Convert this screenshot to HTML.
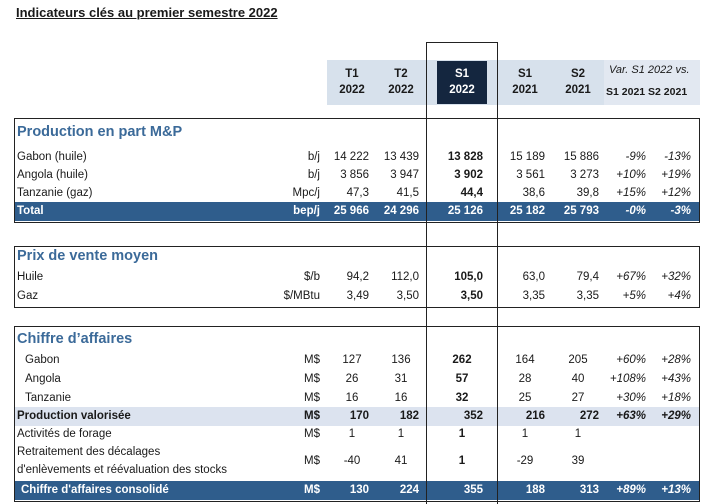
<!DOCTYPE html>
<html><head><meta charset="utf-8"><style>
body{margin:0;width:703px;height:504px;background:#fff;position:relative;overflow:hidden;font-family:"Liberation Sans",sans-serif;color:#1a1a1a;font-size:11.5px}
div,span{position:absolute;white-space:nowrap}
.r{line-height:18px}
.c{text-align:right}
.t{color:#3b6a99;font-weight:bold;font-size:14.5px;left:17px}
.b{font-weight:bold}
.i{font-style:italic}
.box{border:1.5px solid #222;left:14px;width:684px}
</style></head><body>
<div style="left:16px;top:5px;font-size:13px;font-weight:bold;text-decoration:underline">Indicateurs clés au premier semestre 2022</div>

<div style="left:327px;top:60px;width:373px;height:45px;background:#d7e1ec"></div>
<div style="left:604px;top:60px;width:96px;height:45px;background:#e2e8f1"></div>
<div style="left:437px;top:61px;width:50px;height:43px;background:#14263f"></div>
<div style="left:332px;top:66px;width:40px;text-align:center;line-height:16px;font-weight:bold">T1<br>2022</div>
<div style="left:381px;top:66px;width:40px;text-align:center;line-height:16px;font-weight:bold">T2<br>2022</div>
<div style="left:442px;top:66px;width:40px;text-align:center;line-height:16px;font-weight:bold;color:#fff">S1<br>2022</div>
<div style="left:505px;top:66px;width:40px;text-align:center;line-height:16px;font-weight:bold">S1<br>2021</div>
<div style="left:558px;top:66px;width:40px;text-align:center;line-height:16px;font-weight:bold">S2<br>2021</div>
<div class="i" style="left:609px;top:64px;font-size:11px">Var. S1 2022 vs.</div>
<div class="b" style="left:606px;top:86px;font-size:10.5px">S1 2021 S2 2021</div>

<div class="box" style="top:118px;height:103px"></div>
<div class="box" style="top:246px;height:60px"></div>
<div class="box" style="top:326px;height:174px"></div>

<div style="left:15px;top:202px;width:684px;height:19px;background:#2f5d8c"></div>
<div style="left:15px;top:407px;width:684px;height:19px;background:#dce3ef"></div>
<div style="left:15px;top:481px;width:684px;height:19px;background:#2f5d8c"></div>

<div style="left:426px;top:42px;height:462px;border-left:1.5px solid #222"></div>
<div style="left:497px;top:42px;height:462px;border-left:1.5px solid #222"></div>
<div style="left:426px;top:42px;width:72px;border-top:1.5px solid #222"></div>

<div class="t" style="top:124px">Production en part M&amp;P</div>
<div class="t" style="top:248px">Prix de vente moyen</div>
<div class="t" style="top:331px">Chiffre d’affaires</div>

<div id="rows"></div>
<script>
const cols=[320,369,419,483,545,599,646,691];
const rows=[
[148,"Gabon (huile)",["b/j","14 222","13 439","13 828","15 189","15 886","-9%","-13%"],""],
[166,"Angola (huile)",["b/j","3 856","3 947","3 902","3 561","3 273","+10%","+19%"],""],
[184,"Tanzanie (gaz)",["Mpc/j","47,3","41,5","44,4","38,6","39,8","+15%","+12%"],""],
[202,"Total",["bep/j","25 966","24 296","25 126","25 182","25 793","-0%","-3%"],"w"],
[268,"Huile",["$/b","94,2","112,0","105,0","63,0","79,4","+67%","+32%"],""],
[287,"Gaz",["$/MBtu","3,49","3,50","3,50","3,35","3,35","+5%","+4%"],""],
[351," Gabon",["M$","127","136","262","164","205","+60%","+28%"],"x"],
[370," Angola",["M$","26","31","57","28","40","+108%","+43%"],"x"],
[389," Tanzanie",["M$","16","16","32","25","27","+30%","+18%"],"x"],
[407,"Production valorisée",["M$","170","182","352","216","272","+63%","+29%"],"p"],
[425,"Activités de forage",["M$","1","1","1","1","1","",""],"x"],
[452,"",["M$","-40","41","1","-29","39","",""],"x"],
[481,"Chiffre d'affaires consolidé",["M$","130","224","355","188","313","+89%","+13%"],"w"]];
let h="";
const ncx=[304,352,401,462,525,578,630,680];
for(const [y,l,v,f] of rows){
 const white=f=="w",bold=f=="w"||f=="p";
 const st=`top:${y}px;${white?"color:#fff;":""}${bold?"font-weight:bold;":""}`;
 const ind=l.startsWith(" ")?8:0;
 h+=`<div class="r" style="${st}left:${17+ind+(f=="w"&&l.startsWith("Chiffre")?4:0)}px">${l.trim()}</div>`;
 v.forEach((t,k)=>{
  let s=st;if(k==3)s+="font-weight:bold;";if(k>=6)s+="font-style:italic;";
  if(f=="x"&&k>0&&k<6){h+=`<div class="r" style="${s}left:${ncx[k]-30}px;width:60px;text-align:center">${t}</div>`;}
  else h+=`<div class="r c" style="${s}left:${cols[k]-80}px;width:80px">${t}</div>`;
 });
}
h+=`<div style="left:17px;top:443px;line-height:18px">Retraitement des décalages<br>d'enlèvements et réévaluation des stocks</div>`;
document.getElementById("rows").innerHTML=h;
</script>
</body></html>
